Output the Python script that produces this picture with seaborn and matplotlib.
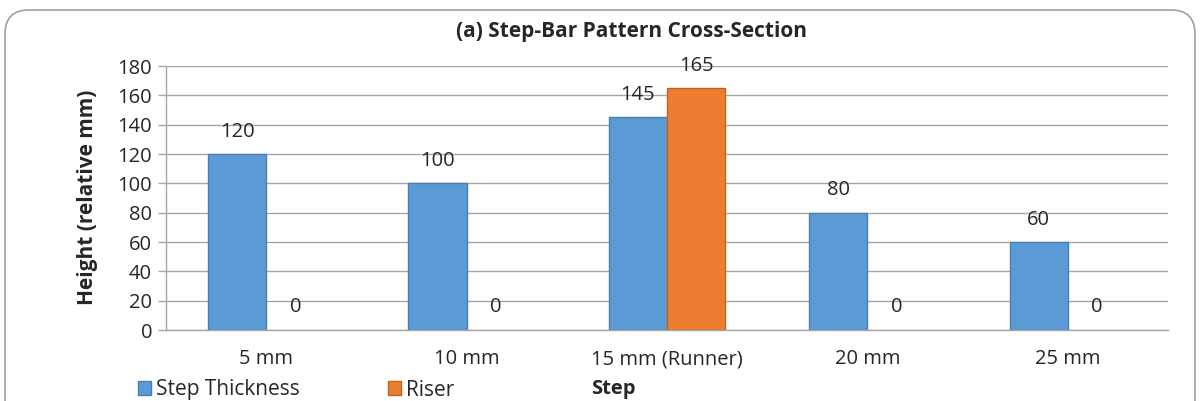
import matplotlib
matplotlib.use("Agg")
import matplotlib.pyplot as plt
from matplotlib.patches import FancyBboxPatch, Patch
from matplotlib.transforms import IdentityTransform
import seaborn as sns
import pandas as pd

# Chart data
steps = ["5 mm", "10 mm", "15 mm (Runner)", "20 mm", "25 mm"]
step_thickness = [120, 100, 145, 80, 60]
riser = [0, 0, 165, 0, 0]
series_names = ["Step Thickness", "Riser"]
y_ticks = [0, 20, 40, 60, 80, 100, 120, 140, 160, 180]

colors = {"Step Thickness": "#5B9BD5", "Riser": "#ED7D31"}
edges = {"Step Thickness": "#4A7EB0", "Riser": "#C0651F"}

df = pd.DataFrame({
    "Step": steps * 2,
    "Series": [series_names[0]] * len(steps) + [series_names[1]] * len(steps),
    "Height": step_thickness + riser,
})

sns.set_theme(style="white")
plt.rcParams["font.family"] = ["Open Sans", "DejaVu Sans"]

fig = plt.figure(figsize=(12, 4.01), dpi=100)
ax = fig.add_axes([166 / 1200, 1 - 330 / 401, (1168 - 166) / 1200, (330 - 66) / 401])

sns.barplot(data=df, x="Step", y="Height", hue="Series", order=steps,
            hue_order=series_names, palette=colors, width=0.58,
            ax=ax, legend=False, saturation=1)

for cont, name in zip(ax.containers, series_names):
    for bar in cont:
        bar.set_edgecolor(edges[name])
        bar.set_linewidth(1 if bar.get_height() > 0 else 0)
    ax.bar_label(cont, fmt="%g", padding=9, fontsize=14.5, color="#262626")

grid_c = "#A6A6A6"
ax.set_ylim(0, 180)
ax.set_yticks(y_ticks)
ax.set_xlim(-0.5, len(steps) - 0.5)
ax.yaxis.grid(True, color=grid_c, linewidth=1)
ax.set_axisbelow(True)
for s in ["top", "right"]:
    ax.spines[s].set_visible(False)
for s in ["left", "bottom"]:
    ax.spines[s].set_color(grid_c)
    ax.spines[s].set_linewidth(1)

ax.set_xticks(range(len(steps)))
ax.set_xticklabels(steps)
ax.set_xticks([i - 0.5 for i in range(len(steps) + 1)], minor=True)
ax.tick_params(axis="x", which="major", length=0, pad=14, labelsize=14.5, labelcolor="#262626")
ax.tick_params(axis="x", which="minor", length=7, width=1, color=grid_c, direction="out")
ax.tick_params(axis="y", which="major", length=6, width=1, color=grid_c, direction="out",
               left=True, labelsize=14.5, labelcolor="#262626", pad=4)
ax.set_xlabel("")
ax.set_ylabel("")

fig.text(632 / 1200, 1 - 31 / 401, "(a) Step-Bar Pattern Cross-Section",
         ha="center", va="center", fontsize=15, fontweight="bold", color="#262626")
fig.text(88 / 1200, 1 - 197 / 401, "Height (relative mm)", rotation=90,
         ha="center", va="center", fontsize=15, fontweight="bold", color="#262626")
fig.text(613 / 1200, 1 - 389 / 401, "Step", ha="center", va="center",
         fontsize=14.5, fontweight="bold", color="#262626")

# Legend along the bottom-left edge
handles = [Patch(facecolor=colors[n], edgecolor=edges[n]) for n in series_names]
fig.legend(handles, series_names, loc="center left", bbox_to_anchor=(119 / 1200, 1 - 390 / 401),
           ncol=2, frameon=False, fontsize=15, handlelength=0.65, handleheight=0.65,
           handletextpad=0.25, columnspacing=4.2, labelcolor="#262626")

# Rounded chart frame
frame = FancyBboxPatch((5, -30), 1190, 401 - 10 + 30,
                       boxstyle="round,pad=0,rounding_size=24",
                       transform=IdentityTransform(), facecolor="none",
                       edgecolor="#A0A0A0", linewidth=1.2)
fig.add_artist(frame)

fig.savefig("out.png", dpi=100)
